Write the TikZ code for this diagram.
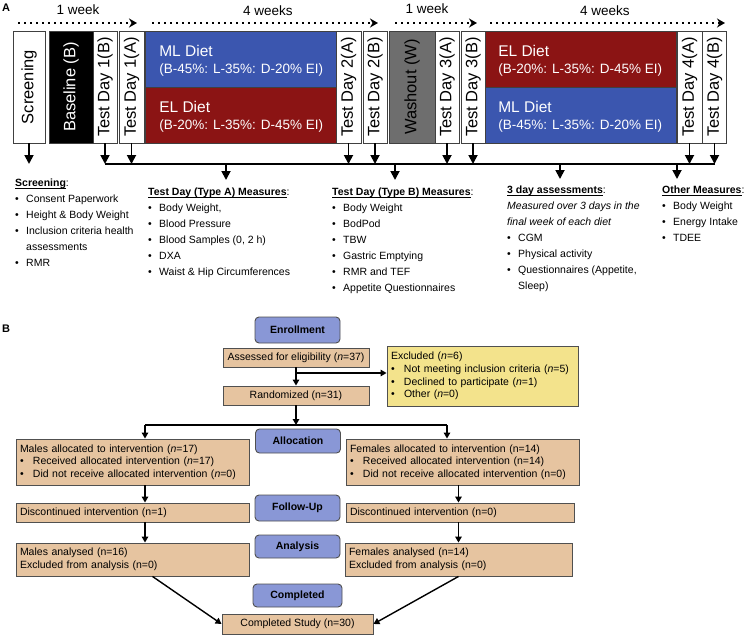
\documentclass[tikz,border=0pt]{standalone}
\usepackage{fontspec}
\setmainfont{Liberation Sans}
\usepackage{graphicx}
\usetikzlibrary{arrows.meta}

\definecolor{mlblue}{RGB}{59,86,175}
\definecolor{elred}{RGB}{139,20,20}
\definecolor{washgray}{RGB}{110,110,110}
\definecolor{peach}{RGB}{230,196,160}
\definecolor{stageblue}{RGB}{137,151,214}
\definecolor{exclyellow}{RGB}{243,227,140}
\definecolor{edgegray}{RGB}{80,80,80}

\newcommand{\itm}[1]{\makebox[11pt][l]{\textbullet}#1}
\newcommand{\fitm}[1]{\makebox[13pt][l]{\textbullet}#1}
\newcommand{\vtxt}[1]{\rotatebox{90}{#1}}
\newcommand{\hdr}[1]{\underline{\smash{\textbf{#1}}}\vphantom{\textbf{#1}}:}

\begin{document}
\begin{tikzpicture}
[
    x=1pt, y=-1pt,
    daybox/.style={draw=black!75, line width=0.8pt, fill=white, inner sep=0pt,
        minimum height=112pt, font=\fontsize{16.5}{18}\selectfont},
    dietbox/.style={draw=black!75, line width=0.8pt, inner sep=0pt,
        minimum width=191pt, minimum height=56pt},
    diettext/.style={anchor=west, align=left, text=white, inner sep=0pt,
        font=\fontsize{13.5}{17.5}\selectfont},
    weeklabel/.style={inner sep=0pt, font=\fontsize{13.5}{15}\selectfont},
    weekarrow/.style={line width=2.4pt, dash pattern=on 2.4pt off 3.6pt,
        -{Stealth[length=8pt,width=9pt]}},
    bus/.style={line width=1.8pt},
    busarrow/.style={line width=1.8pt, -{Triangle[length=9pt,width=9pt]}},
    measures/.style={anchor=north west, align=left, inner sep=0pt,
        font=\fontsize{10.5}{16}\selectfont},
    panel/.style={inner sep=0pt, font=\bfseries\fontsize{11}{13}\selectfont},
    stage/.style={draw=edgegray, line width=0.9pt, fill=stageblue, rounded corners=4pt,
        inner sep=0pt, minimum width=85pt, font=\bfseries\fontsize{10.5}{12}\selectfont},
    flow/.style={draw=edgegray, line width=0.9pt, fill=peach, inner sep=0pt,
        font=\fontsize{10.5}{12.7}\selectfont},
    flowleft/.style={flow, align=left, inner xsep=4pt},
    flowline/.style={line width=1.4pt},
    flowarrow/.style={line width=1.4pt, -{Triangle[length=6pt,width=6.5pt]}},
]
\useasboundingbox (0,0) rectangle (747,635);

\node[panel] (pa) at (6,8) {A};
\node[daybox, minimum width=32pt] (scr) at (29,87) {\vtxt{Screening}};
\node[daybox, minimum width=44pt, fill=black, text=white] (base) at (71,87) {\vtxt{Baseline (B)}};
\node[daybox, minimum width=24pt] (tdoneb) at (105,87) {\vtxt{Test Day 1(B)}};
\node[daybox, minimum width=25pt] (tdonea) at (131.5,87) {\vtxt{Test Day 1(A)}};
\node[dietbox, fill=mlblue] (mlone) at (241,59) {};
\node[dietbox, fill=elred] (elone) at (241,115) {};
\node[daybox, minimum width=25pt] (tdtwoa) at (348.5,87) {\vtxt{Test Day 2(A)}};
\node[daybox, minimum width=24pt] (tdtwob) at (375,87) {\vtxt{Test Day 2(B)}};
\node[daybox, minimum width=46pt, fill=washgray] (wash) at (412,87) {\vtxt{Washout (W)}};
\node[daybox, minimum width=24pt] (tdthra) at (447,87) {\vtxt{Test Day 3(A)}};
\node[daybox, minimum width=24pt] (tdthrb) at (473,87) {\vtxt{Test Day 3(B)}};
\node[dietbox, fill=elred] (eltwo) at (581,59) {};
\node[dietbox, fill=mlblue] (mltwo) at (581,115) {};
\node[daybox, minimum width=25pt] (tdfoura) at (689.5,87) {\vtxt{Test Day 4(A)}};
\node[daybox, minimum width=24pt] (tdfourb) at (714.5,87) {\vtxt{Test Day 4(B)}};

\node[diettext] (mlonet) at ([xshift=14pt,yshift=-2pt]mlone.west)
    {{\fontsize{15.5}{17.5}\selectfont ML Diet}\\(B-45\%: L-35\%: D-20\% EI)};
\node[diettext] (elonet) at ([xshift=14pt,yshift=-2pt]elone.west)
    {{\fontsize{15.5}{17.5}\selectfont EL Diet}\\(B-20\%: L-35\%: D-45\% EI)};
\node[diettext] (eltwot) at ([xshift=13pt,yshift=-2pt]eltwo.west)
    {{\fontsize{15.5}{17.5}\selectfont EL Diet}\\(B-20\%: L-35\%: D-45\% EI)};
\node[diettext] (mltwot) at ([xshift=13pt,yshift=-2pt]mltwo.west)
    {{\fontsize{15.5}{17.5}\selectfont ML Diet}\\(B-45\%: L-35\%: D-20\% EI)};

\node[weeklabel] (wka) at (78,10) {1 week};
\node[weeklabel] (wkb) at (268,11) {4 weeks};
\node[weeklabel] (wkc) at (427,9) {1 week};
\node[weeklabel] (wkd) at (605,10.5) {4 weeks};
\coordinate (wkas) at (18,23);  \coordinate (wkae) at (137,23);
\coordinate (wkbs) at (152,23); \coordinate (wkbe) at (378,23);
\coordinate (wkcs) at (395,23); \coordinate (wkce) at (477,23);
\coordinate (wkds) at (490,23); \coordinate (wkde) at (725,23);
\draw[weekarrow] (wkas) -- (wkae);
\draw[weekarrow] (wkbs) -- (wkbe);
\draw[weekarrow] (wkcs) -- (wkce);
\draw[weekarrow] (wkds) -- (wkde);

\coordinate (busl) at (105,164);
\coordinate (busr) at (714.5,164);
\draw[bus] (busl) -- (busr);
\draw[busarrow] (scr.south) -- (scr.south |- busl);
\foreach \b in {tdoneb,tdonea,tdtwoa,tdtwob,tdthra,tdthrb,tdfoura,tdfourb}
    \draw[busarrow] (\b.south) -- (\b.south |- busl);
\coordinate (toa) at (226,180);
\coordinate (tob) at (395,180);
\coordinate (toc) at (560,179);
\coordinate (tod) at (677,179);
\foreach \t in {toa,tob,toc,tod}
    \draw[busarrow] (\t |- busl) -- (\t);

\node[measures] (scrlist) at (15,179)
    {\hdr{Screening}\\
     \itm{Consent Paperwork}\\
     \itm{Height \& Body Weight}\\
     \itm{Inclusion criteria health}\\
     \hspace*{11pt}assessments\\
     \itm{RMR}};
\node[measures] (typea) at (148,188)
    {\hdr{Test Day (Type A) Measures}\\
     \itm{Body Weight,}\\
     \itm{Blood Pressure}\\
     \itm{Blood Samples (0, 2 h)}\\
     \itm{DXA}\\
     \itm{Waist \& Hip Circumferences}};
\node[measures] (typeb) at (332,188)
    {\hdr{Test Day (Type B) Measures}\\
     \itm{Body Weight}\\
     \itm{BodPod}\\
     \itm{TBW}\\
     \itm{Gastric Emptying}\\
     \itm{RMR and TEF}\\
     \itm{Appetite Questionnaires}};
\node[measures] (threeday) at (507,186)
    {\hdr{3 day assessments}\\
     \textit{Measured over 3 days in the}\\
     \textit{final week of each diet}\\
     \itm{CGM}\\
     \itm{Physical activity}\\
     \itm{Questionnaires (Appetite,}\\
     \hspace*{11pt}Sleep)};
\node[measures] (other) at (662,186)
    {\hdr{Other Measures}\\
     \itm{Body Weight}\\
     \itm{Energy Intake}\\
     \itm{TDEE}};

\node[panel] (pb) at (6,329) {B};
\node[stage, minimum height=26pt] (enroll) at (297.5,330) {Enrollment};
\node[flow, minimum width=146pt, minimum height=19pt] (assessed) at (296,357.5)
    {Assessed for eligibility (\textit{n}=37)};
\node[flowleft, text width=183pt, minimum height=60pt, fill=exclyellow] (excl) at (482.5,376)
    {Excluded (\textit{n}=6)\\
     \fitm{Not meeting inclusion criteria (\textit{n}=5)}\\
     \fitm{Declined to participate (\textit{n}=1)}\\
     \fitm{Other (\textit{n}=0)}};
\node[flow, minimum width=146pt, minimum height=19pt] (rand) at (296,395.5)
    {Randomized (n=31)};
\node[stage, minimum height=24pt] (alloc) at (298,441) {Allocation};
\node[flowleft, text width=225pt, minimum height=46pt] (males) at (132.5,462)
    {Males allocated to intervention (\textit{n}=17)\\
     \fitm{Received allocated intervention (\textit{n}=17)}\\
     \fitm{Did not receive allocated intervention (\textit{n}=0)}};
\node[flowleft, text width=225pt, minimum height=46pt] (fem) at (462.5,462)
    {Females allocated to intervention (n=14)\\
     \fitm{Received allocated intervention (n=14)}\\
     \fitm{Did not receive allocated intervention (n=0)}};
\node[stage, minimum height=26pt] (follow) at (297.5,508) {Follow-Up};
\node[flowleft, text width=225pt, minimum height=19pt] (mdisc) at (132.5,512.5)
    {Discontinued intervention (n=1)};
\node[flowleft, text width=220pt, minimum height=19pt] (fdisc) at (460,512.5)
    {Discontinued intervention (n=0)};
\node[stage, minimum height=23pt] (anal) at (297.5,546.5) {Analysis};
\node[flowleft, text width=225pt, minimum height=33pt] (manal) at (132.5,559.5)
    {Males analysed (n=16)\\Excluded from analysis (n=0)};
\node[flowleft, text width=219pt, minimum height=33pt] (fanal) at (458.5,559.5)
    {Females analysed (n=14)\\Excluded from analysis (n=0)};
\node[stage, minimum width=89pt, minimum height=23pt] (compl) at (297.5,595.5) {Completed};
\node[flow, minimum width=151pt, minimum height=20pt] (cstudy) at (297.5,624)
    {Completed Study (n=30)};

\draw[flowarrow] (assessed) -- (rand);
\draw[flowarrow] ([yshift=3pt]assessed.south |- excl.west) -- ([yshift=3pt]excl.west);
\coordinate (split) at (296,425);
\coordinate (splitl) at (145,425);
\coordinate (splitr) at (447,425);
\draw[flowarrow] (rand) -- (split);
\draw[flowline] (splitl) -- (splitr);
\draw[flowarrow] (splitl) -- (splitl |- males.north);
\draw[flowarrow] (splitr) -- (splitr |- fem.north);
\draw[flowarrow] (males.south -| splitl) -- (mdisc.north -| splitl);
\draw[flowarrow] (mdisc.south -| splitl) -- (manal.north -| splitl);
\draw[flowarrow] (fem.south -| fanal) -- (fdisc.north -| fanal);
\draw[flowarrow] (fdisc.south -| fanal) -- (fanal.north);
\draw[flowarrow] ([xshift=20pt]manal.south) -- (cstudy.west);
\draw[flowarrow] (fanal.south) -- (cstudy.east);
\end{tikzpicture}
\end{document}
